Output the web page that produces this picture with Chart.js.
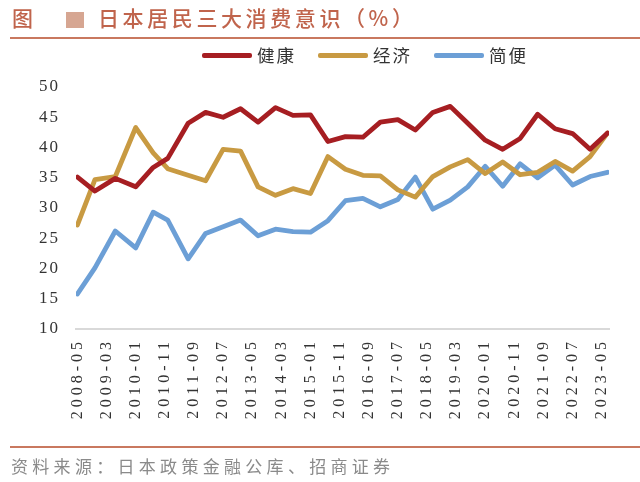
<!DOCTYPE html>
<html>
<head>
<meta charset="utf-8">
<script src="https://cdn.jsdelivr.net/npm/chart.js@4.4.1/dist/chart.umd.min.js"></script>
<style>
html,body{margin:0;padding:0;background:#fff;}
#wrap{position:relative;width:640px;height:482px;overflow:hidden;font-family:"Noto Sans CJK SC","Noto Sans",sans-serif;}
#c{position:absolute;left:0;top:0;}
.t{position:absolute;white-space:nowrap;color:#c0644c;font-size:21px;font-weight:500;line-height:28px;top:3px;}
#sq{position:absolute;left:66px;top:12px;width:18px;height:16px;background:#d6a692;}
.rule{position:absolute;left:10px;width:630px;height:2px;background:#c9785f;}
#legend{position:absolute;top:43px;left:202px;display:flex;align-items:center;height:24px;}
.li{display:flex;align-items:center;margin-right:22px;}
.ll{width:50px;height:5px;border-radius:2px;margin-right:5px;}
.lt{font-size:17.5px;letter-spacing:2px;color:#333;line-height:24px;}
#src{position:absolute;left:11px;top:454px;font-size:17px;letter-spacing:4.3px;color:#8a8a8a;white-space:nowrap;line-height:24px;}
</style>
</head>
<body>
<div id="wrap">
  <canvas id="c" width="640" height="482"></canvas>
  <div class="t" style="left:12px;">图</div>
  <div id="sq"></div>
  <div class="t" style="left:98px;letter-spacing:3.6px;">日本居民三大消费意识（%）</div>
  <div class="rule" style="top:37px;"></div>
  <div id="legend"></div>
  <div class="rule" style="top:446px;"></div>
  <div id="src">资料来源：日本政策金融公库、招商证券</div>
</div>
<script>
// survey dates (semi-annual)
const dates = ['2008-05','2008-11','2009-06','2010-01','2010-07','2010-12','2011-07','2012-01','2012-07','2013-01',
  '2013-07','2014-01','2014-07','2015-01','2015-07','2016-01','2016-07','2017-01','2017-07','2018-01',
  '2018-07','2019-01','2019-07','2020-01','2020-07','2021-01','2021-07','2022-01','2022-07','2023-01','2023-07'];
const health = [35.1,32.8,34.9,33.5,36.7,38.2,44.0,45.8,45.0,46.4,
  44.2,46.6,45.3,45.4,41.0,41.8,41.7,44.2,44.6,42.9,
  45.8,46.8,44.0,41.2,39.7,41.5,45.5,43.1,42.3,39.7,42.4];
const economy = [27.2,34.7,35.2,43.3,39.1,36.5,35.4,34.5,39.7,39.4,
  33.5,32.1,33.2,32.4,38.5,36.4,35.4,35.3,33.0,31.8,
  35.2,36.8,38.0,35.7,37.6,35.5,35.9,37.7,36.1,38.5,42.4];
const convenience = [15.8,20.1,26.2,23.4,29.3,28.0,21.6,25.8,26.9,28.0,
  25.4,26.5,26.1,26.0,27.9,31.2,31.6,30.2,31.4,35.1,
  29.8,31.3,33.5,36.9,33.6,37.3,35.0,37.1,33.8,35.2,35.9];
const seriesNames = ['健康','经济','简便'];
const seriesColors = ['#a61e22','#c89a42','#6c9fd6'];
const tickLabels = ['2008-05','2009-03','2010-01','2010-11','2011-09','2012-07','2013-05','2014-03','2015-01','2015-11',
  '2016-09','2017-07','2018-05','2019-03','2020-01','2020-11','2021-09','2022-07','2023-05'];

function toMonth(s){const [y,m]=s.split('-').map(Number);return (y-2008)*12+(m-5);}
const mk = arr => dates.map((d,i)=>({x:toMonth(d),y:arr[i]}));
const seriesData = [health,economy,convenience];

const spacing = {
  id:'spacing',
  beforeDraw(chart){chart.ctx.letterSpacing='4px';},
  afterDatasetsDraw(chart){chart.ctx.letterSpacing='2px';},
  afterDraw(chart){chart.ctx.letterSpacing='0px';}
};

const chart = new Chart(document.getElementById('c'),{
  type:'line',
  data:{datasets:seriesNames.map((n,i)=>({
    label:n,data:mk(seriesData[i]),borderColor:seriesColors[i],backgroundColor:seriesColors[i],
    borderWidth:4.8,pointRadius:0,tension:0,borderJoinStyle:'round',borderCapStyle:'round'
  }))},
  options:{
    responsive:false,animation:false,devicePixelRatio:1,
    layout:{padding:{top:87,right:31,bottom:0,left:0}},
    plugins:{legend:{display:false},title:{display:false},tooltip:{enabled:false}},
    scales:{
      x:{type:'linear',min:-0.5,max:182.5,
        grid:{display:false,drawTicks:false},
        border:{display:true,color:'#d9d9d9',width:2},
        ticks:{stepSize:10,includeBounds:false,autoSkip:false,minRotation:90,maxRotation:90,padding:9,
          color:'#333333',font:{family:'"Liberation Serif","Times New Roman",serif',size:16},
          callback:(v)=>{const k=Math.round(v/10);return (v%10===0&&tickLabels[k])?tickLabels[k]:'';}},
        afterFit:(s)=>{s.height=153;}
      },
      y:{min:10,max:50,
        grid:{display:false,drawTicks:false},
        border:{display:false},
        ticks:{stepSize:5,padding:16,z:1,color:'#333333',
          font:{family:'"Liberation Serif","Times New Roman",serif',size:17}},
        afterFit:(s)=>{s.width=76;}
      }
    }
  },
  plugins:[spacing]
});

// legend built from the chart's datasets
const lg=document.getElementById('legend');
chart.data.datasets.forEach(ds=>{
  const it=document.createElement('div');it.className='li';
  const ln=document.createElement('div');ln.className='ll';ln.style.background=ds.borderColor;
  const tx=document.createElement('div');tx.className='lt';tx.textContent=ds.label;
  it.appendChild(ln);it.appendChild(tx);lg.appendChild(it);
});
</script>
</body>
</html>
